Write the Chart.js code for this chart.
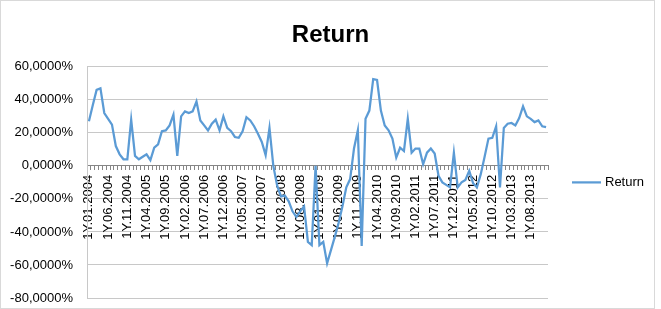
<!DOCTYPE html>
<html>
<head>
<meta charset="utf-8">
<script src="https://cdn.jsdelivr.net/npm/chart.js@4"></script>
<style>
  body { margin: 0; background: #fff; }
  #wrap { position: relative; width: 661px; height: 309px; }
  #frame { position: absolute; left: 0; top: 0; width: 653px; height: 307px; border: 1px solid #d9d9d9; pointer-events: none; }
</style>
</head>
<body>
<div id="wrap">
  <canvas id="chart" width="661" height="309"></canvas>
  <div id="frame"></div>
</div>
<script>
// monthly categories, 01.2004 .. 12.2013
const years = [2004, 2005, 2006, 2007, 2008, 2009, 2010, 2011, 2012, 2013];
const months = ['01', '02', '03', '04', '05', '06', '07', '08', '09', '10', '11', '12'];
const labels = [];
years.forEach(y => months.forEach(m => labels.push('1Y.' + m + '.' + y)));

// return, %
const returns2004 = [27, 36.7, 46, 47, 32, 28.5, 25, 12, 7, 4, 4, 28];
const returns2005 = [6, 4, 5.5, 7, 3.5, 11, 13, 21, 21.5, 24.5, 31, 6];
const returns2006 = [30, 33, 32, 33, 39, 27.5, 24.5, 21.5, 25.5, 28, 21.5, 30];
const returns2007 = [23, 21, 17.5, 17, 21, 29.5, 27.5, 24, 19.5, 14.5, 6.5, 23];
const returns2008 = [0, -12, -18.5, -18, -21.5, -27.5, -31, -27.5, -24.5, -46, -48, 0];
const returns2009 = [-48, -46, -59, -51, -43, -34.5, -24.5, -13, -8, 10.5, 21.5, -48.5];
const returns2010 = [28.5, 33.5, 52.5, 52, 33.5, 24.5, 21.5, 16.5, 5, 11, 9, 28.5];
const returns2011 = [8, 10.5, 10.5, 1, 8, 10.5, 7.5, -6, -10, -11.5, -13, 8];
const returns2012 = [-13, -10, -8.5, -3, -10.5, -13, -5, 5.5, 16.5, 17, 24, -13];
const returns2013 = [23, 25.5, 26, 24.5, 29, 36, 30, 28.5, 26.5, 27.5, 24, 23.5];
const returns = [].concat(returns2004, returns2005, returns2006, returns2007, returns2008,
    returns2009, returns2010, returns2011, returns2012, returns2013);

const yMin = -80;
const yMax = 60;
const yStep = 20;

const font = "'Liberation Sans', Arial, sans-serif";

// legend drawn at the right, centred on the plot like Excel does
const sideLegend = {
    id: 'sideLegend',
    afterDraw(chart) {
        const ctx = chart.ctx;
        const ds = chart.data.datasets[0];
        const area = chart.chartArea;
        const y = (area.top + area.bottom) / 2;
        ctx.save();
        ctx.strokeStyle = ds.borderColor;
        ctx.lineWidth = ds.borderWidth;
        ctx.beginPath();
        ctx.moveTo(572, y);
        ctx.lineTo(601, y);
        ctx.stroke();
        ctx.fillStyle = '#000';
        ctx.font = '13px ' + font;
        ctx.textBaseline = 'middle';
        ctx.fillText(ds.label, 605, y);
        ctx.restore();
    }
};

new Chart(document.getElementById('chart'), {
    type: 'line',
    data: {
        labels,
        datasets: [{
            label: 'Return',
            data: returns,
            borderColor: '#5b9bd5',
            backgroundColor: '#5b9bd5',
            borderWidth: 2.25,
            pointRadius: 0,
            tension: 0,
            fill: false
        }]
    },
    options: {
        responsive: false,
        animation: false,
        layout: { padding: { left: 10, right: 10, top: 0, bottom: 11 } },
        plugins: {
            title: {
                display: true,
                text: 'Return',
                color: '#000',
                font: { family: font, size: 24, weight: 'bold' },
                padding: { top: 21, bottom: 17 }
            },
            legend: { display: false },
            tooltip: { enabled: false }
        },
        scales: {
            x: {
                type: 'category',
                position: { y: 0 },
                offset: true,
                grid: {
                    drawOnChartArea: false,
                    offset: true,
                    tickLength: 4,
                    color: '#868686'
                },
                border: { color: '#868686' },
                ticks: {
                    autoSkip: false,
                    minRotation: 90,
                    maxRotation: 90,
                    padding: 5,
                    color: '#000',
                    font: { family: font, size: 13 },
                    callback: (v, i) => (i % 5 === 0 ? labels[i] : '')
                },
                // room on the right for the legend
                afterFit: scale => {
                    scale.paddingRight = 113;
                }
            },
            y: {
                min: yMin,
                max: yMax,
                grid: { color: '#c8c8c8', drawTicks: false },
                border: { color: '#c8c8c8' },
                ticks: {
                    stepSize: yStep,
                    padding: 14,
                    color: '#000',
                    font: { family: font, size: 13 },
                    callback: v => v.toFixed(4).replace('.', ',') + '%'
                },
                afterFit: scale => {
                    scale.width = 77;
                    scale.paddingTop = 8;
                    scale.paddingBottom = 8;
                }
            }
        }
    },
    plugins: [sideLegend]
});
</script>
</body>
</html>
